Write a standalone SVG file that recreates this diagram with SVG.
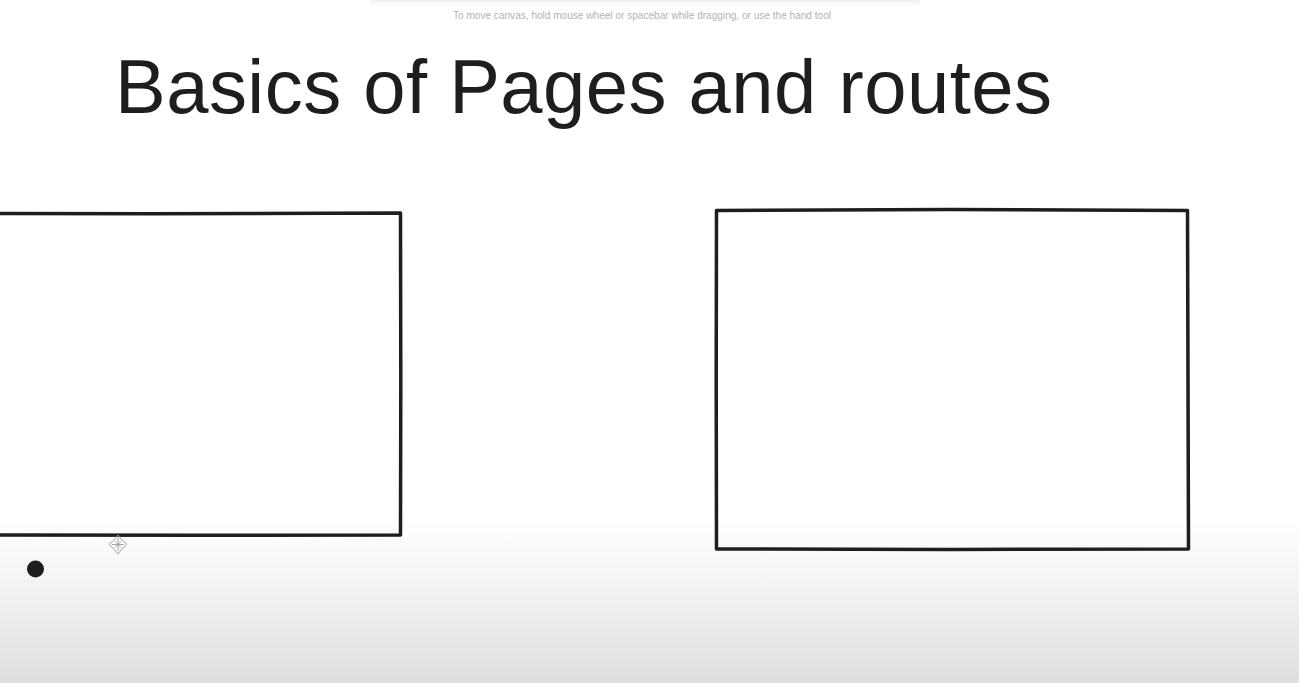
<svg xmlns="http://www.w3.org/2000/svg" width="1299" height="683" viewBox="0 0 1299 683">
<defs>
<linearGradient id="bg" x1="0" y1="0" x2="0" y2="1">
<stop offset="0" stop-color="#ffffff"/>
<stop offset="0.76" stop-color="#ffffff"/>
<stop offset="0.86" stop-color="#f3f3f3"/>
<stop offset="1" stop-color="#dfdfdf"/>
</linearGradient>
<linearGradient id="topbar" x1="0" y1="0" x2="0" y2="1">
<stop offset="0" stop-color="#ececec"/>
<stop offset="1" stop-color="#ffffff" stop-opacity="0"/>
</linearGradient>
<style>
.hint{font-family:"Liberation Sans","Noto Sans",sans-serif;font-size:11px;fill:#b3b3b3}
.title{font-family:"Liberation Sans","DejaVu Sans",sans-serif;font-size:76px;fill:#1e1e1e}
.box{fill:none;stroke:#1e1e1e;stroke-width:3.5;stroke-linecap:round;stroke-linejoin:round}
</style>
</defs>
<rect x="0" y="0" width="1299" height="683" fill="url(#bg)"/>
<rect x="370" y="0" width="550" height="7" rx="3" fill="url(#topbar)"/>
<text class="hint" x="642" y="19" text-anchor="middle" textLength="378" lengthAdjust="spacingAndGlyphs">To move canvas, hold mouse wheel or spacebar while dragging, or use the hand tool</text>
<g id="title">
<text class="title" x="115" y="113" textLength="937" lengthAdjust="spacing">Basics of Pages and routes</text>
</g>
<g id="box-left">
<path class="box" d="M -5 213.5 L 150 213.8 L 400.5 213 M 400.5 213 L 400.8 380 L 400.5 535 M 400.5 535 L 200 535.3 L -5 535"/>
</g>
<g id="box-right">
<path class="box" d="M 716.5 210.5 L 950 209.5 L 1187.5 210.5 M 1187.5 210.5 L 1188 380 L 1188.5 549 M 1188.5 549 L 950 549.5 L 716.5 549 M 716.5 549 L 716.2 380 L 716.5 210.5"/>
</g>
<g id="dot">
<circle cx="35.5" cy="569" r="8.5" fill="#1e1e1e"/>
</g>
<g id="cursor" fill="none" stroke="#9a9a9a" stroke-width="0.9">
<path d="M118 535 L122 540 L127 544.5 L122 549 L118 554 L114 549 L109 544.5 L114 540 Z"/>
<path d="M118 538 L118 551 M112 544.5 L124 544.5 M115 541.5 L121 547.5 M121 541.5 L115 547.5"/>
</g>
<g id="connectors"></g>
</svg>
